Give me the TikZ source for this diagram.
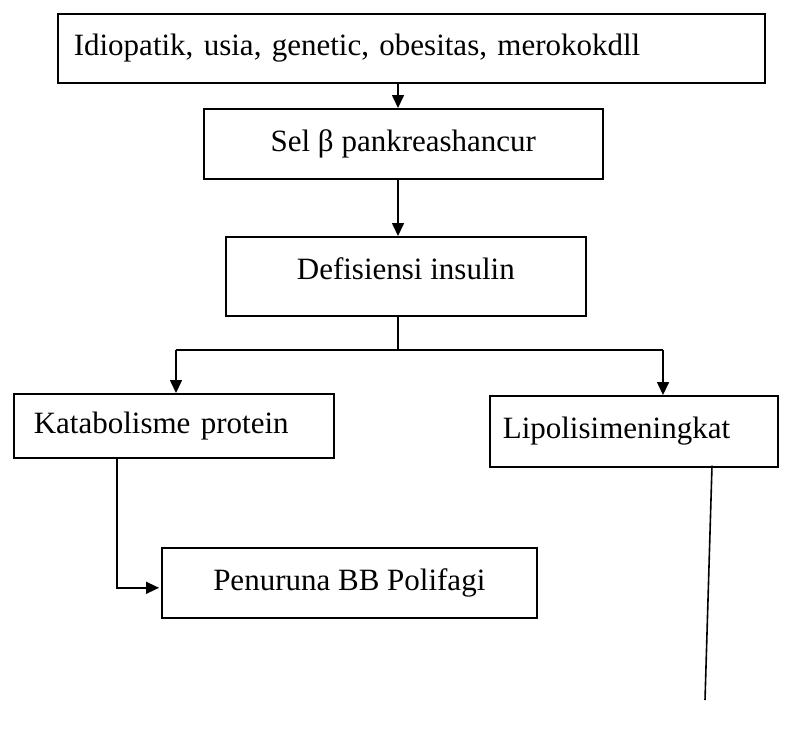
\documentclass[tikz,border=0pt]{standalone}
\usepackage{fontspec}
\setmainfont{Liberation Serif}
\usetikzlibrary{arrows.meta}
\begin{document}
\begin{tikzpicture}[x=1pt,y=-1pt,
  box/.style={draw,line width=1.6pt,rectangle,anchor=north west,inner sep=0pt,font=\fontsize{31}{36}\selectfont},
  conn/.style={line width=1.6pt},
  arr/.style={conn,-{Triangle[length=13pt,width=12pt]}}]
\useasboundingbox (0,0) rectangle (799,728);
% boxes
\node[box,minimum width=707,minimum height=69,text width=675,align=left] (b1) at (57,13) {Idiopatik, usia, genetic, obesitas, merokokdll};
\node[box,minimum width=399,minimum height=70,align=center] (b2) at (203,108) {Sel β pankreashancur};
\node[box,minimum width=360,minimum height=79,align=center,text depth=16pt] (b3) at (225,236) {Defisiensi insulin};
\node[box,minimum width=320,minimum height=64,text width=280,align=left] (b4) at (13,393) {Katabolisme protein};
\node[box,minimum width=288,minimum height=71,text width=262,align=left] (b5) at (489,395) {Lipolisimeningkat};
\node[box,minimum width=375,minimum height=70,align=center] (b6) at (161,547) {Penuruna BB Polifagi};
% helper coordinates
\coordinate (ax) at (398,0);
\coordinate (bl) at (176,350);
\coordinate (bm) at (398,350);
\coordinate (bq) at (663,350);
\coordinate (lx) at (117,0);
\coordinate (rx) at (712,0);
\coordinate (rend) at (705,700);
% connectors
\draw[arr] (b1.south -| ax) -- (b2.north -| ax);
\draw[arr] (b2.south -| ax) -- (b3.north -| ax);
\draw[conn] (b3.south -| ax) -- (bm);
\draw[conn] (bl) -- (bq);
\draw[arr] (bl) -- (b4.north -| bl);
\draw[arr] (bq) -- (b5.north -| bq);
\draw[arr,shorten >=2pt] ([yshift=1pt]b4.south -| lx) |- ([yshift=-5pt]b6.west);
\draw[conn] ([yshift=2pt]b5.south -| rx) -- (rend);
\end{tikzpicture}
\end{document}
